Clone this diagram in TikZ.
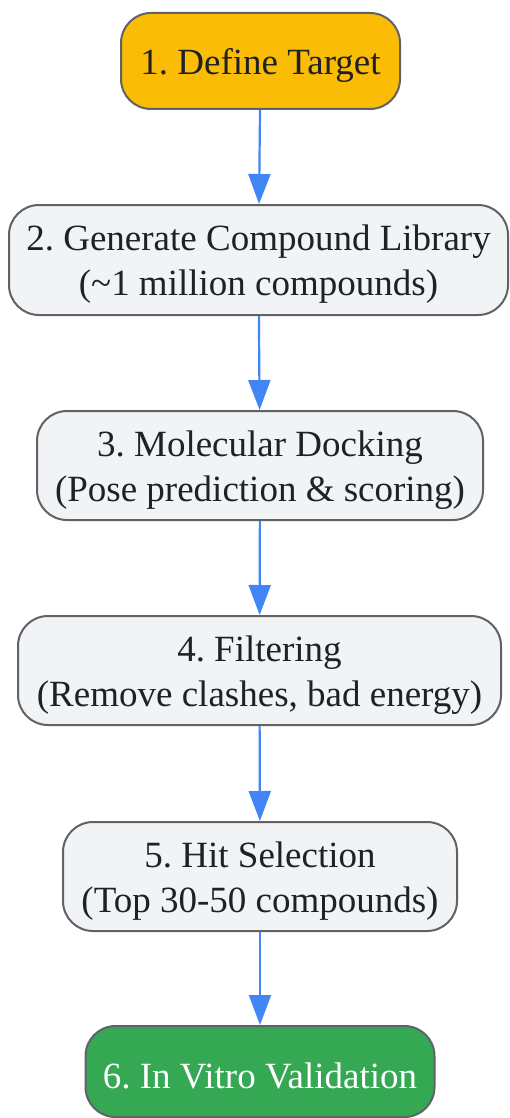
\documentclass[tikz,border=0pt]{standalone}
\usepackage{fontspec}
\setmainfont{Liberation Serif}
\usetikzlibrary{arrows.meta}
\definecolor{boxgray}{HTML}{F1F3F4}
\definecolor{edgegray}{HTML}{5F6368}
\definecolor{gyellow}{HTML}{FBBC05}
\definecolor{ggreen}{HTML}{34A853}
\definecolor{gblue}{HTML}{4285F4}
\definecolor{txt}{HTML}{202124}
\tikzset{
  stepbox/.style={draw=edgegray, line width=2pt, rounded corners=30pt, fill=boxgray,
    inner sep=0pt},
  steptext/.style={text=txt, align=center, inner sep=0pt, yshift=-4.5pt,
    font=\fontsize{37}{45}\selectfont\frenchspacing},
  flowarrow/.style={draw=gblue, line width=2.2pt, -{Triangle[width=22pt,length=30pt]}}
}
\begin{document}
\begin{tikzpicture}[x=1pt,y=-1pt]
\useasboundingbox (0,0) rectangle (509,1118);
\node[stepbox, fill=gyellow, minimum width=279pt, minimum height=96pt,
  label={[steptext]center:1. Define Target}] (n1) at (260.5,61) {};
\node[stepbox, minimum width=499pt, minimum height=110pt,
  label={[steptext]center:2. Generate Compound Library\\(\char`\~1 million compounds)}] (n2) at (258.5,260) {};
\node[stepbox, minimum width=446pt, minimum height=109pt,
  label={[steptext]center:3. Molecular Docking\\(Pose prediction \& scoring)}] (n3) at (260,465.5) {};
\node[stepbox, minimum width=483pt, minimum height=109pt,
  label={[steptext]center:{4. Filtering\\(Remove clashes, bad energy)}}] (n4) at (259.5,670.5) {};
\node[stepbox, minimum width=394pt, minimum height=109pt,
  label={[steptext]center:5. Hit Selection\\(Top 30-50 compounds)}] (n5) at (260,876.5) {};
\node[stepbox, fill=ggreen, minimum width=349pt, minimum height=91pt,
  label={[steptext, text=white]center:6. In Vitro Validation}] (n6) at (260,1071.5) {};
\draw[flowarrow] (n1) -- (n2);
\draw[flowarrow] (n2) -- (n3);
\draw[flowarrow] (n3) -- (n4);
\draw[flowarrow] (n4) -- (n5);
\draw[flowarrow] (n5) -- (n6);
\end{tikzpicture}
\end{document}
